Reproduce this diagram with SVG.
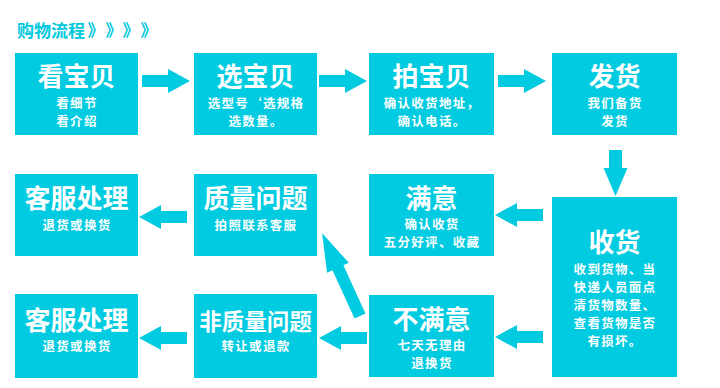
<svg xmlns="http://www.w3.org/2000/svg" width="720" height="388" viewBox="0 0 720 388">
<defs>
<style>
.box{fill:#00cbe0}
.arr{fill:#00cbe0}
text{font-family:"Noto Sans CJK SC","Noto Sans",sans-serif;font-weight:bold;fill:#fff;text-anchor:middle}
.t{font-size:26px}
.s{font-size:12.5px;letter-spacing:1.3px}
.h{fill:#00c8dc;text-anchor:start;font-size:17px}
.c{fill:#00c8dc;font-size:17px}
</style>
<path id="ar" d="M0,-6 H26 V-12 L48,0 L26,12 V6 H0 Z"/>
</defs>
<g id="title">
<text class="h" x="17" y="37">购物流程</text>
<text class="c" x="96" y="37">》</text>
<text class="c" x="114" y="37">》</text>
<text class="c" x="131" y="37">》</text>
<text class="c" x="149" y="37">》</text>
</g>
<g id="n1"><rect class="box" x="15" y="53" width="123" height="82"/>
<text class="t" x="76.5" y="86">看宝贝</text><text class="s" x="77" y="108">看细节</text><text class="s" x="77" y="126">看介绍</text></g>
<g id="n2"><rect class="box" x="194" y="53" width="123" height="82"/>
<text class="t" x="255.5" y="86">选宝贝</text><text class="s" x="256" y="108">选型号‘选规格</text><text class="s" x="256" y="126">选数量。</text></g>
<g id="n3"><rect class="box" x="369" y="53" width="125" height="82"/>
<text class="t" x="431.5" y="86">拍宝贝</text><text class="s" x="432" y="108">确认收货地址，</text><text class="s" x="432" y="126">确认电话。</text></g>
<g id="n4"><rect class="box" x="552" y="53" width="125" height="82"/>
<text class="t" x="614.5" y="86">发货</text><text class="s" x="615" y="108">我们备货</text><text class="s" x="615" y="126">发货</text></g>
<g id="n5"><rect class="box" x="552" y="197" width="125" height="180"/>
<text class="t" x="614.5" y="252">收货</text>
<text class="s" x="615" y="274">收到货物、当</text><text class="s" x="615" y="292">快递人员面点</text><text class="s" x="615" y="310">清货物数量、</text><text class="s" x="615" y="328">查看货物是否</text><text class="s" x="615" y="346">有损坏。</text></g>
<g id="n6"><rect class="box" x="369" y="174" width="125" height="82"/>
<text class="t" x="431.5" y="208">满意</text><text class="s" x="432" y="229">确认收货</text><text class="s" x="432" y="247">五分好评、收藏</text></g>
<g id="n7"><rect class="box" x="369" y="295" width="125" height="82"/>
<text class="t" x="431.5" y="329">不满意</text><text class="s" x="432" y="350">七天无理由</text><text class="s" x="432" y="368">退换货</text></g>
<g id="n8"><rect class="box" x="194" y="174" width="123" height="82"/>
<text class="t" x="255.5" y="208">质量问题</text><text class="s" x="256" y="230">拍照联系客服</text></g>
<g id="n9"><rect class="box" x="15" y="174" width="123" height="82"/>
<text class="t" x="76.5" y="208">客服处理</text><text class="s" x="77" y="230">退货或换货</text></g>
<g id="n10"><rect class="box" x="194" y="294" width="123" height="84"/>
<text class="t" x="255.5" y="330" style="font-size:22.5px">非质量问题</text><text class="s" x="256" y="351">转让或退款</text></g>
<g id="n11"><rect class="box" x="15" y="294" width="123" height="84"/>
<text class="t" x="76.5" y="330">客服处理</text><text class="s" x="77" y="351">退货或换货</text></g>
<g id="connectors" class="arr">
<use href="#ar" transform="translate(142,81)"/>
<use href="#ar" transform="translate(319,81)"/>
<use href="#ar" transform="translate(498,81)"/>
<path d="M609,150 H622 V168 H627.5 L615.5,196 L603.5,168 H609 Z"/>
<use href="#ar" transform="translate(543,215) scale(-1,1)"/>
<use href="#ar" transform="translate(543,337) scale(-1,1)"/>
<use href="#ar" transform="translate(367,338) scale(-1,1)"/>
<use href="#ar" transform="translate(187,217) scale(-1,1)"/>
<use href="#ar" transform="translate(187,338) scale(-1,1)"/>
<path d="M0,-6 H53 V-12 L91,0 L53,12 V6 H0 Z" transform="translate(360,316) rotate(-114.6)"/>
</g>
</svg>
